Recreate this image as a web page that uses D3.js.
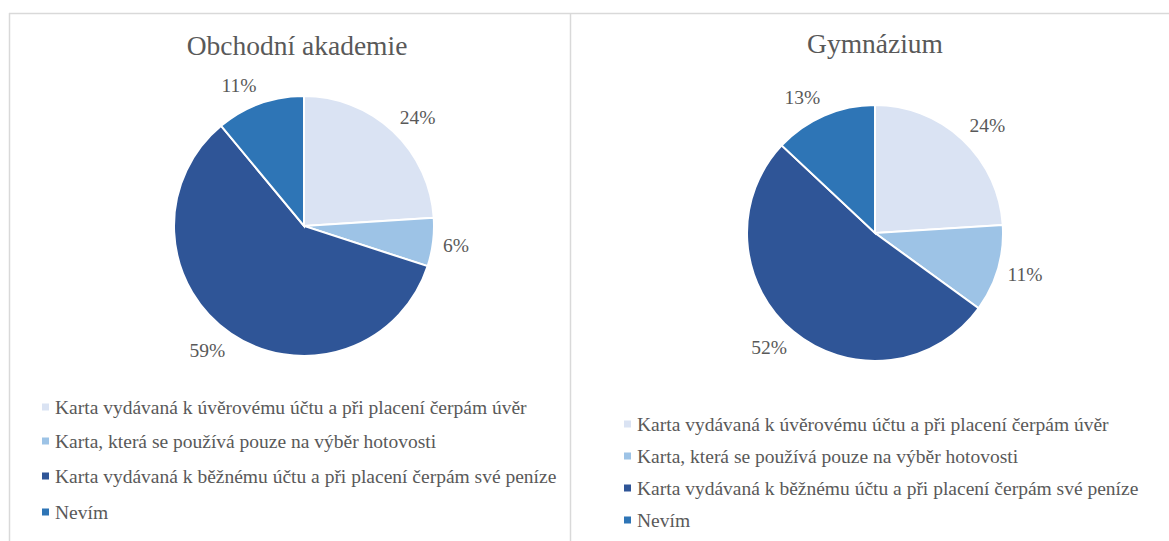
<!DOCTYPE html>
<html>
<head>
<meta charset="utf-8">
<script src="https://cdn.jsdelivr.net/npm/d3@7"></script>
<style>
  body { margin: 0; background: #fff; }
  text { font-family: "Liberation Serif", "Times New Roman", Times, serif; fill: #595959; }
</style>
</head>
<body>
<div id="chart"></div>
<script>
// data
const categories = [
  "Karta vydávaná k úvěrovému účtu a při placení čerpám úvěr",
  "Karta, která se používá pouze na výběr hotovosti",
  "Karta vydávaná k běžnému účtu a při placení čerpám své peníze",
  "Nevím"
];
const titles = ["Obchodní akademie", "Gymnázium"];
const obchodniValues = [24, 6, 59, 11];
const gymnaziumValues = [24, 11, 52, 13];
const colors = ["#dae3f3", "#9dc3e6", "#2f5597", "#2e75b6"];

const svgWidth = 1169;
const svgHeight = 541;
const serif = "'Liberation Serif', 'Times New Roman', Times, serif";
const labelSize = 19.5;

const svg = d3.select("#chart")
  .append("svg")
  .attr("width", svgWidth)
  .attr("height", svgHeight);

// panel frame lines
svg.append("line").attr("x1", 9).attr("x2", svgWidth).attr("y1", 13.5).attr("y2", 13.5)
  .attr("stroke", "#d9d9d9").attr("stroke-width", 1.5);
svg.append("line").attr("x1", 9.5).attr("x2", 9.5).attr("y1", 13).attr("y2", svgHeight)
  .attr("stroke", "#d9d9d9").attr("stroke-width", 1.5);
svg.append("line").attr("x1", 570.5).attr("x2", 570.5).attr("y1", 13).attr("y2", svgHeight)
  .attr("stroke", "#d9d9d9").attr("stroke-width", 1.5);

const panels = [
  { title: titles[0], values: obchodniValues, titleX: 297, titleY: 55, cx: 304, cy: 226, r: 130,
    legendX: 42, legendY: [407, 441, 476, 512] },
  { title: titles[1], values: gymnaziumValues, titleX: 875, titleY: 53, cx: 875, cy: 233, r: 128,
    legendX: 624, legendY: [424, 456, 488, 520] }
];

const pie = d3.pie().sort(null).value(d => d);

panels.forEach(function (p) {
  const g = svg.append("g");

  g.append("text")
    .attr("x", p.titleX)
    .attr("y", p.titleY)
    .attr("text-anchor", "middle")
    .attr("font-family", serif)
    .attr("font-size", "27.5px")
    .text(p.title);

  const arc = d3.arc().innerRadius(0).outerRadius(p.r);
  const labelR = p.r + 10;
  const arcs = pie(p.values);

  const pieGroup = g.append("g")
    .attr("transform", `translate(${p.cx}, ${p.cy})`);

  pieGroup.selectAll("path")
    .data(arcs)
    .enter()
    .append("path")
    .attr("d", arc)
    .attr("fill", (d, i) => colors[i])
    .attr("stroke", "#fff")
    .attr("stroke-width", 2);

  // labels sit outside the pie, the box pushed outward like Excel does
  pieGroup.selectAll(null)
    .data(arcs)
    .enter()
    .append("text")
    .attr("text-anchor", "middle")
    .attr("dy", "0.35em")
    .attr("font-family", serif)
    .attr("font-size", labelSize + "px")
    .text(d => d.data + "%")
    .attr("transform", function (d) {
      const a = (d.startAngle + d.endAngle) / 2;
      const ux = Math.sin(a), uy = -Math.cos(a);
      const w = this.getComputedTextLength();
      const x = labelR * ux + Math.sign(ux) * w / 2;
      const y = labelR * uy + uy * labelSize / 2;
      return `translate(${x}, ${y})`;
    });

  // legend
  const legend = g.selectAll(null)
    .data(categories)
    .enter()
    .append("g")
    .attr("transform", (d, i) => `translate(${p.legendX}, ${p.legendY[i]})`);

  legend.append("rect")
    .attr("x", 0).attr("y", -3.5)
    .attr("width", 7).attr("height", 7)
    .attr("fill", (d, i) => colors[i]);

  legend.append("text")
    .attr("x", 13)
    .attr("dy", "0.35em")
    .attr("font-family", serif)
    .attr("font-size", labelSize + "px")
    .text(d => d);
});
</script>
</body>
</html>
